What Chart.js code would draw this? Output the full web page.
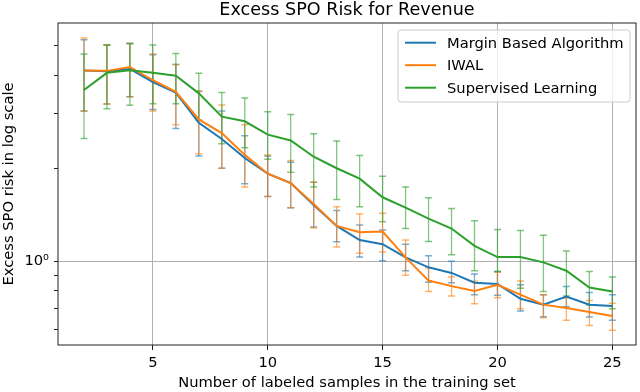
<!DOCTYPE html>
<html>
<head>
<meta charset="utf-8">
<script src="https://cdn.jsdelivr.net/npm/chart.js@4.4.1/dist/chart.umd.min.js"></script>
<style>
  html, body { margin: 0; padding: 0; background: #fff; }
  #wrap { width: 640px; height: 392px; }
</style>
</head>
<body>
<div id="wrap"><canvas id="riskChart" width="640" height="392"></canvas></div>
<script>
// number of labeled samples
const samples = [2, 3, 4, 5, 6, 7, 8, 9, 10, 11, 12, 13, 14, 15, 16, 17, 18, 19, 20, 21, 22, 23, 24, 25];

// Margin Based Algorithm
const marginMean = [4.15, 4.13, 4.20, 3.81, 3.52, 2.81, 2.49, 2.16, 1.92, 1.79, 1.52, 1.30, 1.17, 1.134, 1.028, 0.954, 0.915, 0.85, 0.843, 0.754, 0.721, 0.767, 0.721, 0.714];
const marginLow = [3.07, 3.23, 3.41, 3.10, 2.69, 2.19, 2.00, 1.78, 1.62, 1.49, 1.29, 1.154, 1.03, 1.002, 0.93, 0.854, 0.85, 0.777, 0.775, 0.688, 0.66, 0.71, 0.658, 0.642];
const marginHigh = [5.22, 5.02, 5.08, 4.67, 4.34, 3.55, 3.07, 2.55, 2.19, 2.09, 1.80, 1.46, 1.31, 1.26, 1.134, 1.04, 0.998, 0.908, 0.924, 0.837, 0.778, 0.826, 0.79, 0.777];

// IWAL
const iwalMean = [4.15, 4.14, 4.26, 3.86, 3.54, 2.88, 2.60, 2.21, 1.92, 1.79, 1.53, 1.30, 1.24, 1.247, 1.028, 0.864, 0.829, 0.80, 0.837, 0.778, 0.722, 0.704, 0.683, 0.663];
const iwalLow = [3.07, 3.23, 3.41, 3.07, 2.77, 2.23, 2.00, 1.74, 1.62, 1.49, 1.28, 1.11, 1.06, 1.07, 0.90, 0.796, 0.77, 0.727, 0.76, 0.70, 0.655, 0.642, 0.618, 0.596];
const iwalHigh = [5.29, 5.02, 5.08, 4.70, 4.34, 3.57, 3.21, 2.77, 2.21, 2.12, 1.80, 1.50, 1.42, 1.43, 1.17, 0.95, 0.89, 0.86, 0.92, 0.862, 0.778, 0.76, 0.745, 0.73];

// Supervised Learning
const supMean = [3.59, 4.08, 4.16, 4.08, 3.99, 3.50, 2.94, 2.84, 2.57, 2.46, 2.18, 2.00, 1.85, 1.61, 1.49, 1.373, 1.275, 1.12, 1.03, 1.03, 0.99, 0.93, 0.82, 0.796];
const supLow = [2.50, 3.12, 3.20, 3.24, 3.24, 2.87, 2.40, 2.33, 2.14, 1.94, 1.74, 1.585, 1.50, 1.34, 1.275, 1.157, 1.048, 0.93, 0.924, 0.816, 0.796, 0.77, 0.72, 0.70];
const supHigh = [4.70, 5.02, 5.08, 5.02, 4.71, 4.07, 3.52, 3.38, 3.05, 2.99, 2.59, 2.45, 2.20, 1.885, 1.74, 1.605, 1.48, 1.35, 1.265, 1.256, 1.213, 1.077, 0.924, 0.888];

const xTicks = [5, 10, 15, 20, 25];
const yTicks = [0.6, 0.7, 0.8, 0.9, 1, 2, 3, 4, 5];

const FONT = "'DejaVu Sans', sans-serif";
Chart.defaults.font.family = FONT;
Chart.defaults.color = "#000";

const toPoints = (arr) => samples.map((s, i) => ({ x: s, y: arr[i] }));

// title centred over the axes, not the canvas
const axesTitle = {
  id: "axesTitle",
  afterDraw(chart) {
    const { ctx, chartArea: a } = chart;
    ctx.save();
    ctx.font = "17.6px " + FONT;
    ctx.fillStyle = "#000";
    ctx.textAlign = "center";
    ctx.textBaseline = "alphabetic";
    ctx.fillText("Excess SPO Risk for Revenue", (a.left + a.right) / 2, 15);
    ctx.restore();
  },
};

// vertical error bars with caps, under the lines
const errorBars = {
  id: "errorBars",
  beforeDatasetsDraw(chart) {
    const { ctx, chartArea, scales } = chart;
    ctx.save();
    ctx.beginPath();
    ctx.rect(chartArea.left, chartArea.top, chartArea.width, chartArea.height);
    ctx.clip();
    chart.data.datasets.forEach((ds) => {
      ctx.strokeStyle = ds.errColor;
      samples.forEach((s, i) => {
        const x = scales.x.getPixelForValue(s);
        const yl = scales.y.getPixelForValue(ds.errLow[i]);
        const yh = scales.y.getPixelForValue(ds.errHigh[i]);
        ctx.lineWidth = 1.3;
        ctx.beginPath();
        ctx.moveTo(x, yl);
        ctx.lineTo(x, yh);
        ctx.stroke();
        ctx.lineWidth = 1.5;
        ctx.beginPath();
        ctx.moveTo(x - 3.5, yl);
        ctx.lineTo(x + 3.5, yl);
        ctx.moveTo(x - 3.5, yh);
        ctx.lineTo(x + 3.5, yh);
        ctx.stroke();
      });
    });
    ctx.restore();
  },
};

// axes box
const frame = {
  id: "frame",
  afterDatasetsDraw(chart) {
    const { ctx, chartArea: a } = chart;
    ctx.save();
    ctx.strokeStyle = "#222";
    ctx.lineWidth = 1;
    ctx.strokeRect(a.left, a.top, a.right - a.left, a.bottom - a.top);
    ctx.restore();
  },
};

// legend in upper right corner of the axes
const legendBox = {
  id: "legendBox",
  afterDraw(chart) {
    const { ctx, chartArea: a } = chart;
    const w = 232, h = 72, r = 3;
    const x0 = a.right - 6 - w, y0 = a.top + 7;
    ctx.save();
    ctx.beginPath();
    ctx.moveTo(x0 + r, y0);
    ctx.lineTo(x0 + w - r, y0);
    ctx.arcTo(x0 + w, y0, x0 + w, y0 + r, r);
    ctx.lineTo(x0 + w, y0 + h - r);
    ctx.arcTo(x0 + w, y0 + h, x0 + w - r, y0 + h, r);
    ctx.lineTo(x0 + r, y0 + h);
    ctx.arcTo(x0, y0 + h, x0, y0 + h - r, r);
    ctx.lineTo(x0, y0 + r);
    ctx.arcTo(x0, y0, x0 + r, y0, r);
    ctx.closePath();
    ctx.fillStyle = "rgba(255,255,255,0.8)";
    ctx.fill();
    ctx.strokeStyle = "#cccccc";
    ctx.lineWidth = 1;
    ctx.stroke();

    ctx.font = "14.7px " + FONT;
    ctx.textBaseline = "middle";
    ctx.fillStyle = "#000";
    chart.data.datasets.forEach((ds, i) => {
      const y = y0 + 12.7 + i * 22.5;
      ctx.strokeStyle = ds.borderColor;
      ctx.lineWidth = 2;
      ctx.beginPath();
      ctx.moveTo(x0 + 7, y);
      ctx.lineTo(x0 + 38, y);
      ctx.stroke();
      ctx.fillText(ds.label, x0 + 49, y + 1);
    });
    ctx.restore();
  },
};

new Chart(document.getElementById("riskChart"), {
  type: "line",
  data: {
    datasets: [
      {
        label: "Margin Based Algorithm",
        data: toPoints(marginMean),
        errLow: marginLow,
        errHigh: marginHigh,
        borderColor: "#1f77b4",
        errColor: "rgba(31,119,180,0.6)",
        order: 3,
      },
      {
        label: "IWAL",
        data: toPoints(iwalMean),
        errLow: iwalLow,
        errHigh: iwalHigh,
        borderColor: "#ff7f0e",
        errColor: "rgba(255,127,14,0.6)",
        order: 2,
      },
      {
        label: "Supervised Learning",
        data: toPoints(supMean),
        errLow: supLow,
        errHigh: supHigh,
        borderColor: "#2ca02c",
        errColor: "rgba(44,160,44,0.6)",
        order: 1,
      },
    ],
  },
  options: {
    responsive: false,
    devicePixelRatio: 1,
    animation: false,
    layout: { padding: { left: 0, right: 4, top: 23, bottom: 0 } },
    elements: {
      line: { borderWidth: 2, tension: 0, fill: false },
      point: { radius: 0, hoverRadius: 0 },
    },
    plugins: {
      legend: { display: false },
      tooltip: { enabled: false },
      title: { display: false },
    },
    scales: {
      x: {
        type: "linear",
        min: 0.87,
        max: 26.03,
        afterBuildTicks: (scale) => {
          scale.ticks = xTicks.map((v) => ({ value: v }));
        },
        afterFit: (scale) => {
          scale.height = 47;
        },
        border: { display: false },
        grid: {
          color: "#b0b0b0",
          lineWidth: 1,
          tickColor: "#222",
          tickLength: 5,
        },
        ticks: {
          font: { size: 14.7 },
          color: "#000",
          padding: 4,
          maxRotation: 0,
          autoSkip: false,
        },
        title: {
          display: true,
          text: "Number of labeled samples in the training set",
          font: { size: 14.7 },
          color: "#000",
          padding: { top: 0, bottom: 0 },
        },
      },
      y: {
        type: "logarithmic",
        min: 0.534,
        max: 5.92,
        afterBuildTicks: (scale) => {
          scale.ticks = yTicks.map((v) => ({ value: v }));
        },
        afterFit: (scale) => {
          scale.width = 58;
        },
        border: { display: false },
        grid: {
          color: (c) => (c.tick && c.tick.value === 1 ? "#b0b0b0" : "rgba(0,0,0,0)"),
          lineWidth: 1,
          tickColor: "#222",
          tickLength: 4,
        },
        ticks: {
          font: { size: 14.7 },
          color: "#000",
          padding: 5,
          autoSkip: false,
          callback: (v) => (v === 1 ? "10\u2070" : ""),
        },
        title: {
          display: true,
          text: "Excess SPO risk in log scale",
          font: { size: 14.7 },
          color: "#000",
          padding: { top: 0, bottom: 0 },
        },
      },
    },
  },
  plugins: [errorBars, frame, legendBox, axesTitle],
});
</script>
</body>
</html>
